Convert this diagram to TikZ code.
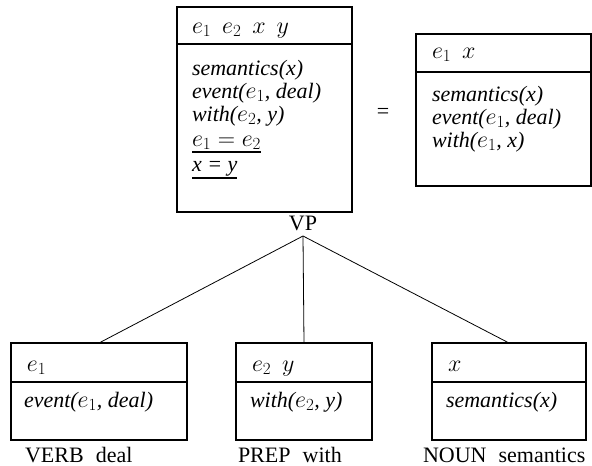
\RequirePackage{fix-cm}
\documentclass[tikz,border=0pt]{standalone}
\usepackage{fontspec}
\setmainfont{Liberation Serif}
\DeclareMathSizes{22}{24}{17}{12}
\begin{document}
\begin{tikzpicture}[x=1pt,y=-1pt,
  every node/.style={inner sep=0pt,outer sep=0pt,font=\fontsize{22}{26}\selectfont},
  drs/.style={draw,line width=1.6pt,rectangle,anchor=north west},
  rule/.style={line width=1.4pt},
  uline/.style={line width=1.2pt},
  txt/.style={anchor=base west,text height=15pt,text depth=5pt},
  branch/.style={line width=0.8pt}]
\useasboundingbox (0,0) rectangle (592,466);

% composed DRS for the VP
\node[drs,minimum width=175pt,minimum height=205pt] (big) at (177,7) {};
\draw[rule] (big.west |- 0,44) -- (big.east |- 0,44);
\node[txt] (bh) at (192,33) {$e_1$\ \ $e_2$\ \ $x$\ \ $y$};
\node[txt] (b1) at (192,75) {\itshape semantics(x)};
\node[txt] (b2) at (192,98) {\itshape event($e_1$, deal)};
\node[txt] (b3) at (192,121) {\itshape with($e_2$, y)};
\node[txt] (b4) at (192,146) {$e_1=e_2$};
\draw[uline] (b4.base west) ++(0,6) -- (b4.base east |- 0,152);
\node[txt] (b5) at (192,171) {\itshape x = y};
\draw[uline] (b5.base west) ++(0,7) -- (b5.base east |- 0,178);

% equality sign between the two structures
\node (eq) at (383,113) {=};

% simplified DRS
\node[drs,minimum width=175pt,minimum height=152pt] (res) at (416,34) {};
\draw[rule] (res.west |- 0,72) -- (res.east |- 0,72);
\node[txt] (rh) at (432,58) {$e_1$\ \ $x$};
\node[txt] (r1) at (432,101) {\itshape semantics(x)};
\node[txt] (r2) at (432,124) {\itshape event($e_1$, deal)};
\node[txt] (r3) at (432,147) {\itshape with($e_1$, x)};

% syntax tree
\node (vp) at (303,223) {VP};
\coordinate (top) at (303,236);

\node[drs,minimum width=176pt,minimum height=97pt] (verb) at (11,343) {};
\draw[rule] (verb.west |- 0,382) -- (verb.east |- 0,382);
\node[txt] (vh) at (27,371) {$e_1$};
\node[txt] (v1) at (24,407) {\itshape event($e_1$, deal)};
\node[txt] (vl) at (25,462) {VERB\hspace{0.55em}deal};

\node[drs,minimum width=136pt,minimum height=97pt] (prep) at (236,343) {};
\draw[rule] (prep.west |- 0,382) -- (prep.east |- 0,382);
\node[txt] (ph) at (252,371) {$e_2$\ \ $y$};
\node[txt] (p1) at (250,407) {\itshape with($e_2$, y)};
\node[txt] (pl) at (238,462) {PREP\hspace{0.55em}with};

\node[drs,minimum width=154pt,minimum height=97pt] (noun) at (432,343) {};
\draw[rule] (noun.west |- 0,382) -- (noun.east |- 0,382);
\node[txt] (nh) at (448,371) {$x$};
\node[txt] (n1) at (446,407) {\itshape semantics(x)};
\node[txt] (nl) at (423,462) {NOUN\hspace{0.55em}semantics};

\draw[branch] (top) -- (verb.north);
\draw[branch] (top) -- (prep.north);
\draw[branch] (top) -- (noun.north);
\end{tikzpicture}
\end{document}
